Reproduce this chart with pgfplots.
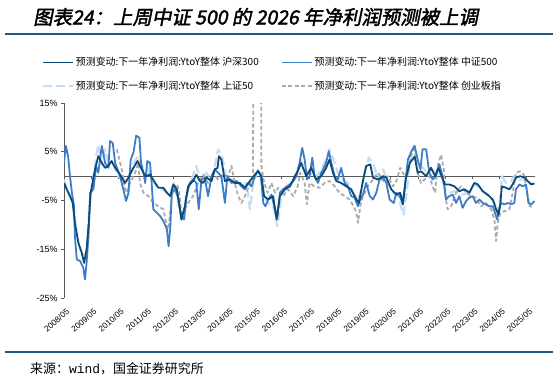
\documentclass[border=0pt]{standalone}
\usepackage{pgfplots}
\pgfplotsset{compat=1.18}
\usepackage{fontspec}
\setmainfont{Liberation Sans}
\newfontfamily\cjk{Noto Sans CJK SC}
\newfontfamily\monof{Liberation Mono}
\newfontfamily\cjktitle[FakeSlant=0.2,FakeBold=2]{Noto Sans CJK SC}
\definecolor{hs300}{HTML}{0C4A78}
\definecolor{zz500}{HTML}{3D7CC9}
\definecolor{sz50}{HTML}{C6DDF2}
\definecolor{cyb}{HTML}{ABABAB}
\definecolor{rulec}{HTML}{1F5A85}
\definecolor{axisgray}{HTML}{595959}
\begin{document}
\begin{tikzpicture}
\useasboundingbox (0bp,0bp) rectangle (559bp,-385bp);
\node[anchor=west, inner sep=0pt] at (33bp,-17bp) {\cjktitle\fontsize{19.5}{22}\selectfont 图表24：上周中证 500 的 2026 年净利润预测被上调};
\draw[rulec, line width=1.5bp] (5bp,-34bp) -- (553bp,-34bp);
\draw[rulec, line width=1.5bp] (5bp,-352bp) -- (553bp,-352bp);
\node[anchor=west, inner sep=0pt] at (30bp,-369bp) {\cjk\fontsize{13}{15}\selectfont 来源：{\monof wind}，国金证券研究所};
\begin{axis}[
 scale only axis, width=471bp, height=195bp,
 at={(64bp,-298bp)}, anchor=south west,
 xmin=2008.37, xmax=2025.67, ymin=-25, ymax=15,
 axis y line*=left, axis x line*=bottom,
 x axis line style={draw=none},
 y axis line style={axisgray, line width=0.8bp},
 ytick={-25,-15,-5,5,15}, yticklabels={-25\%,-15\%,-5\%,5\%,15\%},
 xtick={2008.37,2009.37,2010.37,2011.37,2012.37,2013.37,2014.37,2015.37,2016.37,2017.37,2018.37,2019.37,2020.37,2021.37,2022.37,2023.37,2024.37,2025.37},
 xticklabels={2008/05,2009/05,2010/05,2011/05,2012/05,2013/05,2014/05,2015/05,2016/05,2017/05,2018/05,2019/05,2020/05,2021/05,2022/05,2023/05,2024/05,2025/05},
 xtick style={draw=none},
 ytick style={axisgray, line width=0.8bp},
 tick align=outside, major tick length=3bp,
 yticklabel style={font=\fontsize{9}{10}\selectfont, text=black},
 xticklabel style={font=\fontsize{8.3}{9}\selectfont, xshift=5bp, yshift=-9bp, rotate=40, anchor=east, inner sep=1bp, text=black},
 legend columns=2,
 legend cell align=left,
 legend style={draw=none, fill=none, inner sep=0pt, at={(axis description cs:-0.047,1.245)}, anchor=north west,
   font=\cjk\fontsize{10}{12}\selectfont, row sep=10bp,
   /tikz/every even column/.append style={column sep=20bp}},
 legend image code/.code={\draw[#1] (0bp,0bp) -- (30bp,0bp);},
 every axis plot/.append style={line width=1.8bp, line join=round},
]
\addlegendimage{hs300}
\addlegendentry{预测变动:下一年净利润:YtoY整体 沪深300}
\addlegendimage{zz500}
\addlegendentry{预测变动:下一年净利润:YtoY整体 中证500}
\addlegendimage{sz50, dash pattern=on 9bp off 4bp}
\addlegendentry{预测变动:下一年净利润:YtoY整体 上证50}
\addlegendimage{cyb, dash pattern=on 4bp off 2.5bp}
\addlegendentry{预测变动:下一年净利润:YtoY整体 创业板指}

\draw[axisgray, line width=0.8bp] (axis cs:2008.37,0) -- (axis cs:2025.67,0);
\pgfplotsinvokeforeach{2009.37,2010.37,2011.37,2012.37,2013.37,2014.37,2015.37,2016.37,2017.37,2018.37,2019.37,2020.37,2021.37,2022.37,2023.37,2024.37,2025.37}{
  \draw[axisgray, line width=0.8bp] (axis cs:#1,0) -- ++(0bp,-3bp);
}

% 上证50
\addplot[forget plot, sz50, line width=2.2bp, dash pattern=on 9bp off 4bp] coordinates {
(2008.37,-0.7)(2008.53,-3.4)(2008.71,-5.5)(2008.84,-12.3)(2008.96,-15.0)(2009.08,-16.4)(2009.20,-15.7)(2009.30,-6.2)(2009.42,-1.4)(2009.55,4.1)(2009.63,6.5)(2009.76,2.4)(2009.88,5.5)(2010.00,2.7)(2010.18,2.4)(2010.37,0)(2010.55,-0.7)(2010.74,0)(2010.92,2.7)(2011.10,4.1)(2011.26,1.7)(2011.43,1.7)(2011.59,-0.7)(2011.78,-2.1)(2011.96,-2.7)(2012.15,-3.4)(2012.27,-3.4)(2012.39,-1.4)(2012.51,-2.1)(2012.58,-6.2)(2012.71,-9.2)(2012.87,-3.4)(2013.05,-0.7)(2013.23,2.1)(2013.42,-1.4)(2013.60,0.7)(2013.79,-0.7)(2013.93,2.7)(2014.03,5.5)(2014.18,4.1)(2014.34,-0.7)(2014.52,-0.7)(2014.71,-1.4)(2014.89,-2.1)(2015.07,-1.4)(2015.20,-6.8)(2015.32,-1.4)(2015.50,1.4)(2015.62,0)(2015.72,-4.1)(2015.87,-5.5)(2016.05,-6.2)(2016.21,-10.3)(2016.36,-4.1)(2016.55,-2.1)(2016.73,-1.4)(2016.91,0)(2017.05,3.4)(2017.21,1.4)(2017.39,0.7)(2017.57,-0.3)(2017.76,0.7)(2017.94,2.7)(2018.12,5.5)(2018.27,3.4)(2018.43,0.7)(2018.61,-0.7)(2018.80,-1.4)(2018.98,-3.4)(2019.17,-4.8)(2019.29,-2.7)(2019.41,0.7)(2019.57,3.8)(2019.72,2.7)(2019.90,-0.7)(2020.09,1.4)(2020.27,-1.4)(2020.45,-3.4)(2020.64,-4.1)(2020.84,-7.9)(2020.97,-2.7)(2021.07,2.7)(2021.21,6.2)(2021.38,2.7)(2021.54,1.7)(2021.73,0.7)(2021.91,1.4)(2022.09,0)(2022.22,0.7)(2022.36,-2.7)(2022.52,-3.4)(2022.71,-3.1)(2022.89,-3.4)(2023.07,-3.8)(2023.26,-2.7)(2023.44,-1.7)(2023.63,-2.4)(2023.81,-3.4)(2023.99,-4.4)(2024.18,-5.5)(2024.30,-7.5)(2024.40,-4.1)(2024.45,0)(2024.61,-1.4)(2024.79,-1.0)(2024.91,0)(2025.04,-0.7)(2025.16,-0.7)(2025.34,-0.7)(2025.47,-1.4)(2025.65,-1.7)
};
% 创业板指
\addplot[forget plot, cyb, dash pattern=on 4bp off 2.5bp] coordinates {
(2010.31,5.5)(2010.49,1.4)(2010.61,-2.7)(2010.67,-3.4)(2010.80,-1.4)(2010.98,0.7)(2011.10,2.7)(2011.16,-1.4)(2011.29,-3.4)(2011.47,-4.1)(2011.65,-5.5)(2011.84,-6.2)(2012.02,-6.8)(2012.15,-10.3)(2012.21,-10.9)(2012.33,-4.1)(2012.45,-1.7)(2012.55,-2.1)(2012.62,-4.1)(2012.68,-8.2)(2012.81,-6.8)(2012.93,-5.5)(2013.11,-4.1)(2013.30,-1.4)(2013.48,0.3)(2013.66,-1.4)(2013.85,0.7)(2014.03,-0.7)(2014.22,0.3)(2014.40,0)(2014.52,2.1)(2014.64,-1.4)(2014.77,-4.1)(2014.89,-5.5)(2015.01,-4.1)(2015.16,-2.1)(2015.26,-0.7)(2015.31,0)(2015.33,30)(2015.60,30)(2015.62,2.1)(2015.72,-1.4)(2015.85,-3.4)(2015.99,-1.4)(2016.12,-3.4)(2016.24,-2.4)(2016.42,-4.1)(2016.60,-2.7)(2016.79,-4.1)(2016.95,-2.1)(2017.05,0.7)(2017.21,-1.4)(2017.29,-5.8)(2017.39,-1.4)(2017.57,-2.1)(2017.76,-2.4)(2017.94,-1.4)(2018.12,-1.0)(2018.31,-2.1)(2018.49,-3.4)(2018.68,-4.1)(2018.86,-4.8)(2019.01,-6.2)(2019.11,-7.5)(2019.17,-9.6)(2019.25,-6.2)(2019.35,-4.1)(2019.53,-2.1)(2019.72,-0.7)(2019.90,0.7)(2020.09,-1.0)(2020.27,0)(2020.45,-2.1)(2020.60,-0.7)(2020.72,1.7)(2020.88,0)(2021.00,0.7)(2021.13,4.4)(2021.25,5.5)(2021.36,0.7)(2021.48,-1.4)(2021.61,-0.7)(2021.79,0)(2021.91,-2.1)(2022.00,-3.4)(2022.09,2.1)(2022.22,4.4)(2022.32,1.4)(2022.40,-4.8)(2022.46,-6.8)(2022.59,-6.2)(2022.77,-3.4)(2022.95,-2.1)(2023.14,-3.4)(2023.32,-4.1)(2023.50,-4.4)(2023.69,-6.2)(2023.87,-5.5)(2024.06,-6.8)(2024.18,-8.9)(2024.24,-13.3)(2024.30,-9.6)(2024.40,-7.5)(2024.55,-7.2)(2024.73,-6.8)(2024.85,-3.4)(2024.97,0.7)(2025.13,1.0)(2025.26,0.3)(2025.38,-3.4)(2025.47,-6.2)(2025.59,-6.2)
};
% 中证500
\addplot[forget plot, zz500] coordinates {
(2008.37,2.7)(2008.44,6.2)(2008.52,4.1)(2008.59,0)(2008.66,-3.4)(2008.74,-6.2)(2008.77,-12.3)(2008.84,-17.1)(2008.96,-17.4)(2009.08,-18.8)(2009.14,-21.2)(2009.20,-17.8)(2009.27,-12.3)(2009.33,-3.4)(2009.45,-2.7)(2009.55,2.1)(2009.63,0.7)(2009.76,6.2)(2009.88,2.7)(2010.00,1.7)(2010.06,7.2)(2010.16,6.8)(2010.25,2.7)(2010.43,0)(2010.55,-2.7)(2010.65,-5.1)(2010.74,-3.4)(2010.82,3.4)(2010.92,4.8)(2011.02,8.3)(2011.14,7.9)(2011.20,2.7)(2011.29,0.7)(2011.35,-1.4)(2011.43,3.1)(2011.53,2.7)(2011.59,-1.4)(2011.65,-6.8)(2011.78,-7.5)(2011.90,-8.2)(2012.02,-9.2)(2012.15,-10.9)(2012.21,-14.4)(2012.27,-10.9)(2012.33,-3.4)(2012.45,-2.7)(2012.56,-4.5)(2012.66,-7.9)(2012.78,-8.9)(2012.87,-4.1)(2012.99,-1.4)(2013.11,-0.7)(2013.23,-1.4)(2013.32,-6.8)(2013.42,-0.7)(2013.54,-0.3)(2013.66,-4.1)(2013.79,0)(2013.91,1.4)(2014.03,0.7)(2014.15,0)(2014.28,-5.5)(2014.37,0)(2014.52,-1.4)(2014.71,-1.0)(2014.89,-2.1)(2015.01,-2.7)(2015.13,-1.4)(2015.26,-2.1)(2015.38,0)(2015.50,1.2)(2015.60,0)(2015.69,-5.5)(2015.77,-6.2)(2015.87,-4.8)(2015.99,-3.8)(2016.12,-6.8)(2016.21,-8.2)(2016.30,-3.4)(2016.42,-2.7)(2016.55,-2.1)(2016.67,-1.7)(2016.79,-1.0)(2016.91,0)(2017.02,2.7)(2017.12,5.8)(2017.21,3.4)(2017.29,-0.7)(2017.39,0)(2017.49,3.8)(2017.57,0)(2017.70,-1.4)(2017.82,0.7)(2017.98,2.4)(2018.10,5.1)(2018.19,2.7)(2018.31,0)(2018.43,-0.7)(2018.55,1.7)(2018.68,-1.4)(2018.80,-2.1)(2018.92,-4.1)(2019.04,-4.4)(2019.17,-6.2)(2019.25,-4.8)(2019.35,-3.8)(2019.47,-1.4)(2019.60,-4.1)(2019.72,-4.8)(2019.84,-3.4)(2019.96,-0.7)(2020.09,-0.3)(2020.21,-1.4)(2020.33,-4.8)(2020.48,-5.5)(2020.58,-3.4)(2020.70,-4.1)(2020.80,-5.5)(2020.88,-2.7)(2021.00,3.4)(2021.13,5.1)(2021.25,6.2)(2021.36,3.4)(2021.46,1.4)(2021.54,5.5)(2021.67,5.5)(2021.79,0.7)(2021.91,-0.7)(2022.03,0)(2022.16,2.4)(2022.24,0.7)(2022.34,-2.1)(2022.40,-4.8)(2022.52,-4.1)(2022.65,-3.8)(2022.77,-5.5)(2022.89,-4.1)(2023.01,-6.5)(2023.14,-5.1)(2023.26,-4.4)(2023.38,-4.1)(2023.50,-5.5)(2023.63,-4.8)(2023.75,-5.5)(2023.87,-5.8)(2023.99,-6.2)(2024.12,-6.2)(2024.20,-7.5)(2024.28,-8.9)(2024.36,-6.8)(2024.42,-5.5)(2024.55,-5.8)(2024.67,-5.5)(2024.79,-5.8)(2024.91,-5.5)(2024.97,-2.7)(2025.10,-1.7)(2025.22,-2.1)(2025.34,-1.7)(2025.43,-5.5)(2025.53,-5.8)(2025.65,-5.1)
};
% 沪深300
\addplot[forget plot, hs300] coordinates {
(2008.37,-1.4)(2008.47,-2.7)(2008.59,-4.1)(2008.69,-5.5)(2008.77,-9.6)(2008.90,-13.7)(2009.02,-15.7)(2009.11,-17.8)(2009.20,-15.0)(2009.28,-9.6)(2009.35,-3.4)(2009.51,1.4)(2009.63,4.1)(2009.76,2.7)(2009.88,1.7)(2010.00,2.1)(2010.12,3.1)(2010.25,1.7)(2010.43,0.3)(2010.61,-1.4)(2010.74,-0.3)(2010.92,1.7)(2011.07,3.1)(2011.16,2.1)(2011.35,0)(2011.53,0.3)(2011.72,-1.4)(2011.84,-2.4)(2012.02,-2.4)(2012.15,-3.4)(2012.27,-4.1)(2012.39,-1.7)(2012.51,-2.7)(2012.60,-5.5)(2012.68,-8.9)(2012.81,-6.2)(2012.93,-2.1)(2013.11,-1.0)(2013.23,0.3)(2013.36,-1.0)(2013.48,-1.4)(2013.60,-0.3)(2013.79,-1.0)(2013.91,1.4)(2014.01,1.7)(2014.06,4.1)(2014.15,3.4)(2014.28,-1.0)(2014.46,-0.7)(2014.64,-1.4)(2014.83,-1.4)(2015.01,-2.4)(2015.20,-1.0)(2015.38,0.3)(2015.50,1.0)(2015.62,0)(2015.72,-4.1)(2015.87,-4.8)(2016.05,-4.1)(2016.18,-8.9)(2016.30,-4.1)(2016.48,-2.7)(2016.67,-2.1)(2016.85,0)(2016.95,1.0)(2017.08,2.7)(2017.27,0)(2017.45,1.7)(2017.63,-0.7)(2017.82,0)(2018.00,1.7)(2018.12,3.4)(2018.25,0.7)(2018.37,-1.0)(2018.55,-1.4)(2018.74,-2.1)(2018.92,-2.7)(2019.11,-4.8)(2019.20,-5.5)(2019.35,-1.0)(2019.47,2.1)(2019.62,2.4)(2019.72,-0.3)(2019.90,-0.7)(2020.09,0)(2020.21,-0.3)(2020.39,-2.7)(2020.58,-3.8)(2020.72,-3.4)(2020.82,-5.8)(2020.92,-0.7)(2021.07,2.7)(2021.25,4.0)(2021.36,0.7)(2021.48,1.0)(2021.67,0)(2021.85,1.7)(2022.00,0)(2022.12,1.7)(2022.24,0)(2022.36,-1.7)(2022.52,-1.7)(2022.71,-2.1)(2022.89,-3.1)(2023.07,-2.7)(2023.26,-3.4)(2023.44,-1.4)(2023.57,-1.7)(2023.75,-3.1)(2023.93,-3.8)(2024.12,-4.8)(2024.24,-6.8)(2024.33,-7.9)(2024.40,-5.5)(2024.45,-2.1)(2024.61,-2.4)(2024.73,-2.7)(2024.85,-1.7)(2024.97,-0.3)(2025.13,0)(2025.28,-0.3)(2025.40,-1.0)(2025.53,-1.7)(2025.65,-1.5)
};
\end{axis}
\end{tikzpicture}
\end{document}
